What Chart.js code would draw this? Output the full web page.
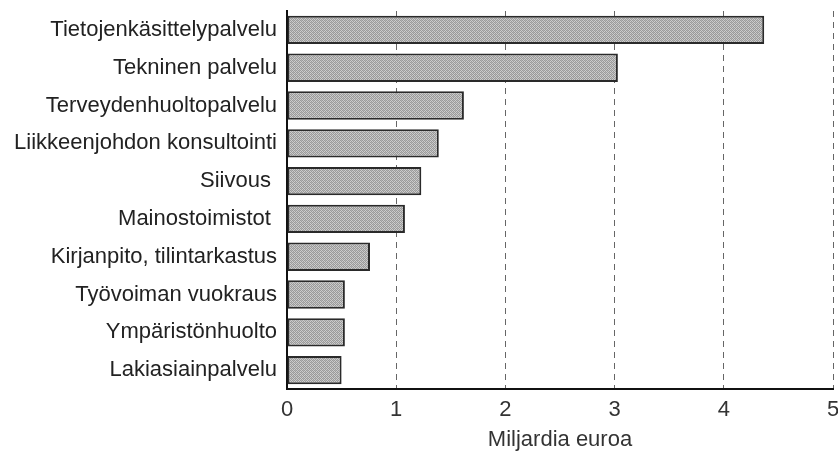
<!DOCTYPE html>
<html>
<head>
<meta charset="utf-8">
<script src="https://cdn.jsdelivr.net/npm/chart.js@4"></script>
<style>
  html, body { margin: 0; padding: 0; background: #fff; }
  #wrap { width: 838px; height: 454px; }
</style>
</head>
<body>
<div id="wrap"><canvas id="palvelut"></canvas></div>
<script>
// Services, billions of euros
const categories = [
  'Tietojenkäsittelypalvelu',
  'Tekninen palvelu',
  'Terveydenhuoltopalvelu',
  'Liikkeenjohdon konsultointi',
  'Siivous ',
  'Mainostoimistot ',
  'Kirjanpito, tilintarkastus',
  'Työvoiman vuokraus',
  'Ympäristönhuolto',
  'Lakiasiainpalvelu'
];
const values = [4.37, 3.03, 1.62, 1.39, 1.23, 1.08, 0.76, 0.53, 0.53, 0.50];
const xTicks = [0, 1, 2, 3, 4, 5];
const axisTitle = 'Miljardia euroa';

// grainy grey fill
function makePattern() {
  const c = document.createElement('canvas');
  c.width = 4; c.height = 4;
  const g = c.getContext('2d');
  g.fillStyle = '#cdcdcd';
  g.fillRect(0, 0, 4, 4);
  g.fillStyle = '#9a9a9a';
  [[0, 0], [2, 0], [1, 1], [3, 1], [0, 2], [2, 2], [3, 3], [1, 3]].forEach(([x, y]) => g.fillRect(x, y, 1, 1));
  g.fillStyle = '#b4b4b4';
  g.fillRect(3, 2, 1, 1);
  g.fillRect(1, 0, 1, 1);
  return g.createPattern(c, 'repeat');
}

const font = { family: 'Liberation Sans, Arial, sans-serif', size: 22 };

new Chart(document.getElementById('palvelut'), {
  type: 'bar',
  data: {
    labels: categories,
    datasets: [{
      data: values,
      backgroundColor: makePattern(),
      borderColor: '#2a2a2a',
      borderWidth: 2,
      borderSkipped: false,
      barPercentage: 0.75,
      categoryPercentage: 1
    }]
  },
  options: {
    indexAxis: 'y',
    responsive: true,
    maintainAspectRatio: false,
    animation: false,
    layout: { padding: { top: 11, right: 5, left: 0, bottom: 0 } },
    plugins: {
      legend: { display: false },
      tooltip: { enabled: false }
    },
    scales: {
      x: {
        min: 0,
        max: 5,
        afterBuildTicks: (s) => { s.ticks = xTicks.map(v => ({ value: v })); },
        afterFit: (s) => {
          s.height = 65;
          s.paddingLeft = 0;
          s.paddingRight = 0;
        },
        grid: {
          color: (ctx) => ctx.tick && ctx.tick.value === 0 ? 'rgba(0,0,0,0)' : '#666',
          lineWidth: 1,
          drawTicks: false
        },
        // border.dash applies to the grid lines, the axis line stays solid
        border: { display: true, color: '#111', width: 2, dash: [6, 5] },
        ticks: { color: '#333', font: font, padding: 8 },
        title: {
          display: true,
          text: axisTitle,
          color: '#333',
          font: font,
          padding: { top: 3, bottom: 1 }
        }
      },
      y: {
        afterFit: (s) => {
          s.width = 287;
          s.paddingTop = 0;
          s.paddingBottom = 0;
        },
        grid: { display: false, drawTicks: false },
        border: { display: true, color: '#111', width: 2 },
        ticks: { color: '#222', font: font, padding: 10 }
      }
    }
  }
});
</script>
</body>
</html>
